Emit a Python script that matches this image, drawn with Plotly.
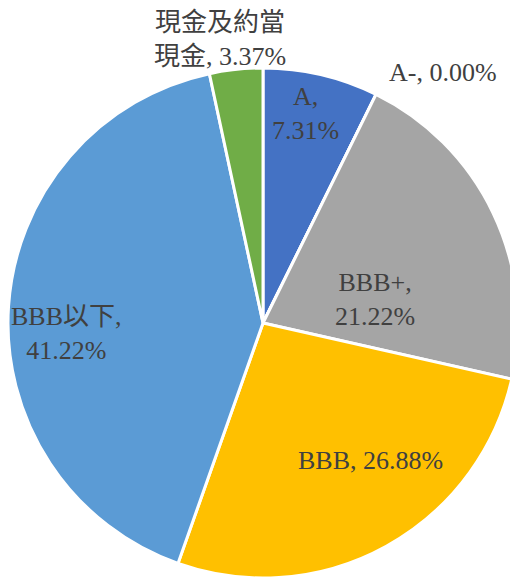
import plotly.graph_objects as go

labels = ["A", "A-", "BBB+", "BBB", "BBB以下", "現金及約當現金"]
values = [7.31, 0.00, 21.22, 26.88, 41.22, 3.37]
colors = ["#4472C4", "#ED7D31", "#A5A5A5", "#FFC000", "#5B9BD5", "#70AD47"]

# label display text (line breaks are layout) and positions in page pixels
label_text = ["A,<br>{v:.2f}%", "A-, {v:.2f}%", "BBB+,<br>{v:.2f}%", "BBB, {v:.2f}%",
              "BBB以下,<br>{v:.2f}%", "現金及約當<br>現金, {v:.2f}%"]
label_pos = [(305, 113), (443, 72), (375, 299), (370, 460), (66, 333), (220, 39)]

OFF = 8  # default page body margin
W, H = 518 - OFF, 581 - OFF
cx, cy, r = 263 - OFF, 323 - OFF, 255

fig = go.Figure()
fig.add_trace(go.Pie(
    labels=labels, values=values, sort=False, direction="clockwise", rotation=0,
    marker=dict(colors=colors, line=dict(color="white", width=3)),
    textinfo="none", hoverinfo="label+percent", showlegend=False,
    domain=dict(x=[max(0, (cx - r) / W), min(1, (cx + r) / W)],
                y=[max(0, 1 - (cy + r) / H), min(1, 1 - (cy - r) / H)]),
))

for t, v, (px, py) in zip(label_text, values, label_pos):
    fig.add_annotation(
        x=(px - OFF) / W, y=1 - (py - OFF) / H, xref="paper", yref="paper",
        text=t.format(v=v), showarrow=False, align="center",
        xanchor="center", yanchor="middle",
        font=dict(family="Liberation Serif, Noto Sans CJK TC", size=26, color="#404040"),
    )

fig.update_layout(width=W, height=H, margin=dict(l=0, r=0, t=0, b=0),
                  paper_bgcolor="white", plot_bgcolor="white")
fig.write_html("out.html")
